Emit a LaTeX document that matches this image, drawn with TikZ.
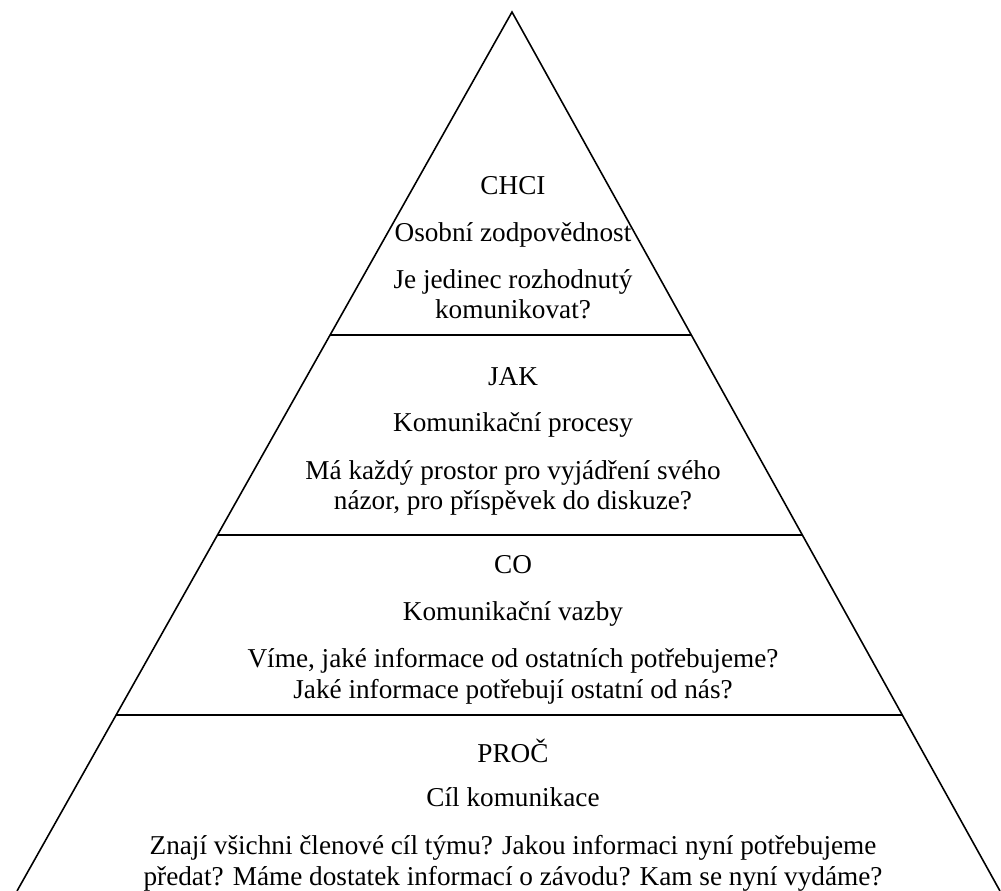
\documentclass[tikz,border=0pt]{standalone}
\usepackage{fontspec}
\setmainfont{Liberation Serif}
\usetikzlibrary{positioning, calc}

\begin{document}
\begin{tikzpicture}[x=0.02cm, y=-0.02cm,
		popis/.style={anchor=base, align=center, inner sep=0pt, font=\fontsize{15.5pt}{17.5pt}\selectfont}]
	\useasboundingbox (0,0) rectangle (1001,891);

	% Pyramida
	\coordinate (vrchol) at (512,12);
	\coordinate (levy) at (17,891);
	\coordinate (pravy) at (1000,891);
	\draw[line width=0.9pt] (levy) -- (vrchol) -- (pravy);

	% Dělicí čáry
	\draw[line width=1.1pt] ($(vrchol)!0.3675!(levy)$) -- ($(vrchol)!0.3675!(pravy)$);
	\draw[line width=1.1pt] ($(vrchol)!0.595!(levy)$) -- ($(vrchol)!0.595!(pravy)$);
	\draw[line width=1.1pt] ($(vrchol)!0.7998!(levy)$) -- ($(vrchol)!0.7998!(pravy)$);

	% Úroveň CHCI
	\node[popis] (chci) at (513,195) {CHCI};
	\node[popis] (osobni) at (513,242) {Osobní zodpovědnost};
	\node[popis] (jedinec) at (513,319) {Je jedinec rozhodnutý\\komunikovat?};

	% Úroveň JAK
	\node[popis] (jak) at (513,386) {JAK};
	\node[popis] (procesy) at (513,432) {Komunikační procesy};
	\node[popis] (prostor) at (513,510) {Má každý prostor pro vyjádření svého\\názor, pro příspěvek do diskuze?};

	% Úroveň CO
	\node[popis] (co) at (513,574) {CO};
	\node[popis] (vazby) at (513,621) {Komunikační vazby};
	\node[popis] (informace) at (513,698) {Víme, jaké informace od ostatních potřebujeme?\\Jaké informace potřebují ostatní od nás?};

	% Úroveň PROČ
	\node[popis] (proc) at (513,762) {PROČ};
	\node[popis] (cil) at (513,806) {Cíl komunikace};
	\node[popis] (clenove) at (513,885) {Znají všichni členové cíl týmu? Jakou informaci nyní potřebujeme\\předat? Máme dostatek informací o závodu? Kam se nyní vydáme?};
\end{tikzpicture}
\end{document}
